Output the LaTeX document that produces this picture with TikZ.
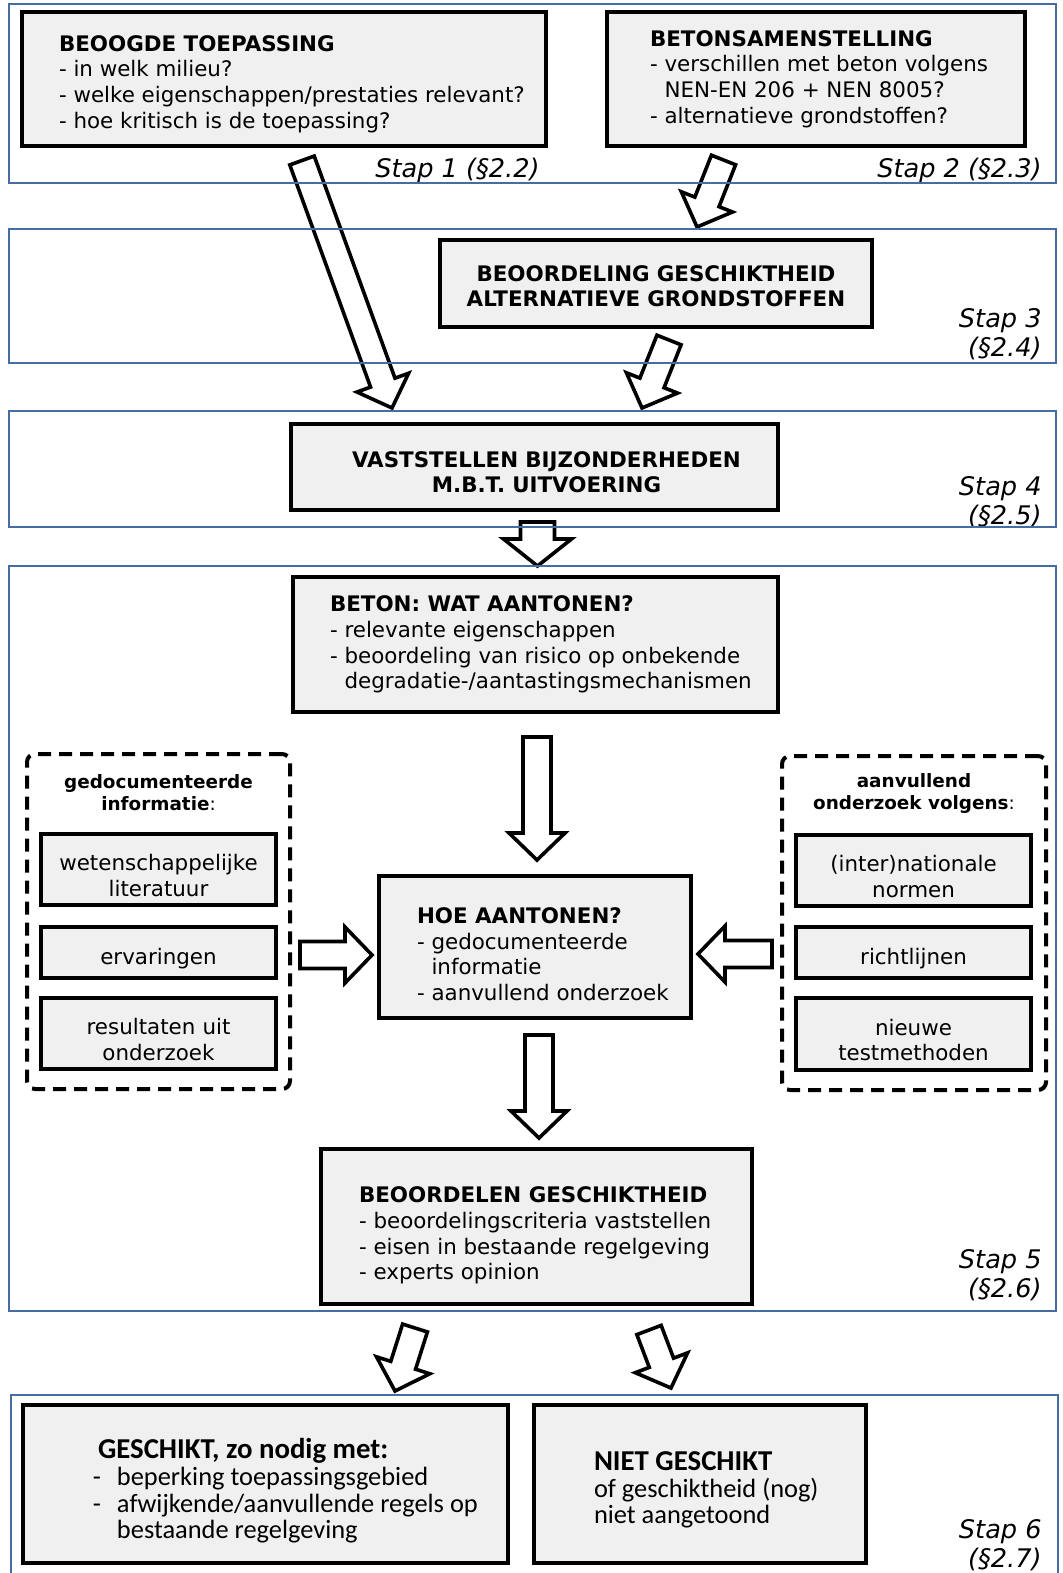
\documentclass[tikz,border=0pt]{standalone}
\usepackage{fontspec}
\setmainfont{DejaVu Sans}
\newfontfamily\calibrifont{Carlito}
\usepackage{xcolor}
\usetikzlibrary{calc}

\definecolor{stapblue}{RGB}{71,107,163}
\definecolor{boxgray}{RGB}{240,240,240}

\newcommand{\bodysize}{\fontsize{10.7}{12.8}\selectfont}
\newcommand{\titlesize}{\fontsize{9.2}{11}\selectfont}
\newcommand{\stapsize}{\fontsize{12.8}{14.5}\selectfont}
\newcommand{\calsize}{\calibrifont\fontsize{13.2}{13.3}\selectfont}
\newcommand{\calhead}[1]{{\fontsize{14.4}{13.3}\selectfont\bfseries #1}}

\newcommand{\blockarrow}[4]{%
  \coordinate (ba-t) at (#3);
  \coordinate (ba-p) at (#4);
  \coordinate (ba-b) at ($(ba-p)!13.5pt!(ba-t)$);
  \draw[hollow] ($(ba-t)!#1!90:(ba-p)$) -- ($(ba-b)!#1!90:(ba-p)$)
    -- ($(ba-b)!#2!90:(ba-p)$) -- (ba-p) -- ($(ba-b)!#2!-90:(ba-p)$)
    -- ($(ba-b)!#1!-90:(ba-p)$) -- ($(ba-t)!#1!-90:(ba-p)$) -- cycle;
}

\begin{document}
\begin{tikzpicture}[x=0.5pt, y=-0.5pt,
  stapframe/.style={draw=stapblue, line width=0.9pt},
  boxbase/.style={draw, line width=2pt, fill=boxgray, inner sep=0pt},
  listbox/.style={boxbase, align=left, text width=#1, font=\bodysize},
  textpad/.style={execute at begin node={\leftskip=#1\spaceskip=0pt\xspaceskip=0pt\relax}},
  headbox/.style={boxbase, align=center, text width=#1, font=\bodysize\bfseries},
  itembox/.style={boxbase, line width=1.7pt, align=center, font=\bodysize, text width=117.5pt, text height=14pt},
  groupbox/.style={draw, line width=2pt, dash pattern=on 6.5pt off 4pt, rounded corners=4pt, inner sep=0pt},
  grouptitle/.style={align=center, font=\titlesize, inner sep=0pt},
  calbox/.style={boxbase, align=left, text width=#1, font=\calsize},
  staplabel/.style={anchor=east, align=right, font=\stapsize\itshape, inner sep=0pt},
  hollow/.style={draw, fill=white, line width=1.8pt, line join=miter}]
  \useasboundingbox (0,0) rectangle (1062,1573);

  \node[listbox=262pt, textpad=18.5pt, minimum height=67pt, text height=13pt] (toep) at (284,79)
    {\textbf{BEOOGDE TOEPASSING}\\- in welk milieu?\\- welke eigenschappen/prestaties relevant?\\- hoe kritisch is de toepassing?};
  \node[listbox=209pt, textpad=21.5pt, minimum height=67pt] (samen) at (816,79)
    {\textbf{BETONSAMENSTELLING}\\- verschillen met beton volgens\\\phantom{- }NEN-EN 206 + NEN 8005?\\- alternatieve grondstoffen?};
  \node[staplabel] (stap1) at (540,170) {Stap 1 (§2.2)};
  \node[staplabel] (stap2) at (1042,170) {Stap 2 (§2.3)};

  \node[headbox=216pt, minimum height=43.5pt, text height=10.5pt] (grondst) at (656,283.5)
    {BEOORDELING GESCHIKTHEID\\ALTERNATIEVE GRONDSTOFFEN};
  \node[staplabel] (stap3) at (1042,334) {Stap 3\\(§2.4)};

  \node[headbox=243.5pt, minimum height=43pt, text height=13.3pt] (uitv) at (534.5,467)
    {\hspace*{12pt}VASTSTELLEN BIJZONDERHEDEN\\\hspace*{12pt}M.B.T. UITVOERING};
  \node[staplabel] (stap4) at (1042,502) {Stap 4\\(§2.5)};

  \node[listbox=242.5pt, textpad=18.5pt, minimum height=67.5pt] (wat) at (535.5,644.5)
    {\textbf{BETON: WAT AANTONEN?}\\- relevante eigenschappen\\- beoordeling van risico op onbekende\\\phantom{- }degradatie-/aantastingsmechanismen};
  \node[listbox=156pt, textpad=19pt, minimum height=71pt, text height=15pt] (hoe) at (535,947)
    {\textbf{HOE AANTONEN?}\\- gedocumenteerde\\\phantom{- }informatie\\- aanvullend onderzoek};
  \node[listbox=215.5pt, textpad=19pt, minimum height=77.5pt, text height=17pt] (oordeel) at (536.5,1226.5)
    {\textbf{BEOORDELEN GESCHIKTHEID}\\- beoordelingscriteria vaststellen\\- eisen in bestaande regelgeving\\- experts opinion};

  \node[groupbox, minimum width=131.5pt, minimum height=167.5pt] (docu) at (158.5,921.5) {};
  \node[grouptitle] (docutitel) at (158.5,793) {\textbf{gedocumenteerde}\\\textbf{informatie}:};
  \node[itembox, minimum height=35.5pt] (lit) at (158.5,869.5) {wetenschappelijke\\literatuur};
  \node[itembox, minimum height=25.5pt] (erv) at (158.5,952.5) {ervaringen};
  \node[itembox, minimum height=35.5pt] (res) at (158.5,1033.5) {resultaten uit\\onderzoek};

  \node[groupbox, minimum width=132pt, minimum height=167pt] (aanv) at (914,923) {};
  \node[grouptitle] (aanvtitel) at (914,793) {\textbf{aanvullend}\\\textbf{onderzoek volgens}:};
  \node[itembox, minimum height=35.5pt] (norm) at (913.5,870.5) {(inter)nationale\\normen};
  \node[itembox, minimum height=25.5pt] (richt) at (913.5,952.5) {richtlijnen};
  \node[itembox, minimum height=36pt] (test) at (913.5,1034) {nieuwe\\testmethoden};
  \node[staplabel] (stap5) at (1042,1275) {Stap 5\\(§2.6)};

  \node[calbox=242.5pt, textpad=35pt, minimum height=79pt, text height=17pt] (wel) at (265.5,1484)
    {\hspace*{2.5pt}\calhead{GESCHIKT, zo nodig met:}\\\makebox[12pt][l]{-}beperking toepassingsgebied\\\makebox[12pt][l]{-}afwijkende/aanvullende regels op\\\hspace*{12pt}bestaande regelgeving};
  \node[calbox=166pt, textpad=30pt, minimum height=79pt, text height=15.6pt] (niet) at (700,1484)
    {\calhead{NIET GESCHIKT}\\of geschiktheid (nog)\\niet aangetoond};
  \node[staplabel] (stap6) at (1042,1545) {Stap 6\\(§2.7)};

  \blockarrow{6.5pt}{13.75pt}{$(toep.south)+(18,12.5)$}{$(uitv.north)+(-142.5,-14)$}
  \blockarrow{6.5pt}{13.75pt}{$(samen.south)+(-92.5,12)$}{$(grondst.north)+(41,-11)$}
  \blockarrow{6.5pt}{13.75pt}{$(grondst.south)+(13,11)$}{$(uitv.north)+(107.5,-14)$}
  \blockarrow{8.5pt}{17pt}{$(uitv.south)+(3,10)$}{$(wat.north)+(2,-9)$}
  \blockarrow{7pt}{14pt}{$(wat.south)+(1.5,23)$}{$(hoe.north)+(2,-14)$}
  \blockarrow{7pt}{14pt}{$(hoe.south)+(4,15)$}{$(oordeel.north)+(2.5,-9)$}
  \blockarrow{6.75pt}{14pt}{$(docu.east)+(8,33.5)$}{$(hoe.west)+(-5,8)$}
  \blockarrow{6.75pt}{14pt}{$(aanv.west)+(-8,31)$}{$(hoe.east)+(5,7)$}
  \blockarrow{6.5pt}{14pt}{$(oordeel.south)+(-121.5,22)$}{$(wel.north)+(129.5,-12)$}
  \blockarrow{6.5pt}{14pt}{$(oordeel.south)+(112.5,24)$}{$(niet.north)+(-29,-15)$}

  \draw[stapframe] (9,4) rectangle (1056,183);
  \draw[stapframe] (9,229) rectangle (1056,363);
  \draw[stapframe] (9,411) rectangle (1056,527);
  \draw[stapframe] (9,566) rectangle (1056,1311);
  \draw[stapframe] (11,1395) rectangle (1058,1590);
\end{tikzpicture}
\end{document}
